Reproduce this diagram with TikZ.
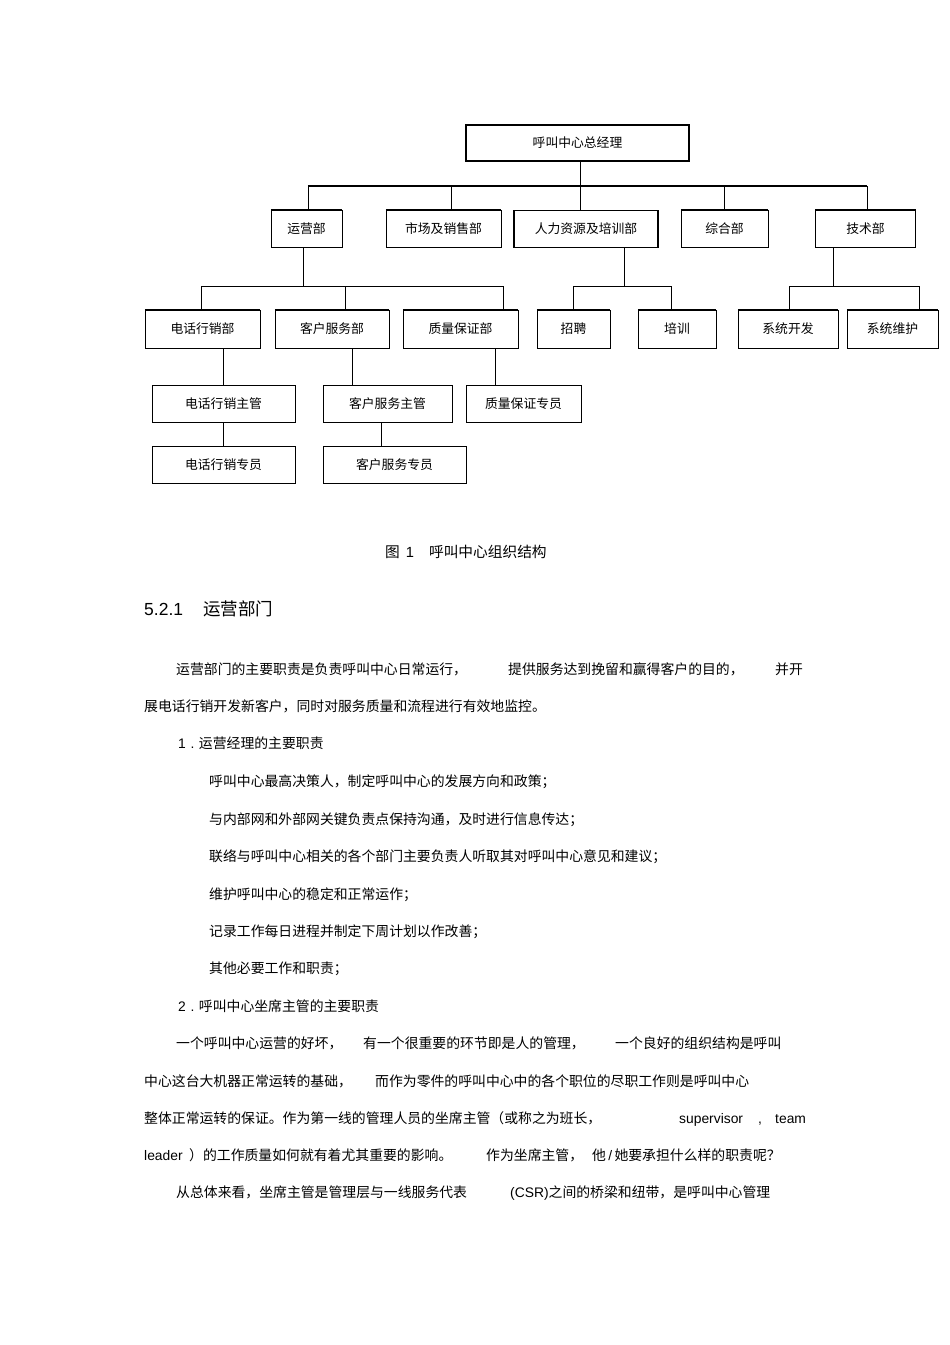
\documentclass[tikz,border=0pt]{standalone}
\usepackage{fontspec}
\setmainfont{Liberation Sans}
\newfontfamily\cjk{Noto Sans CJK SC}
\newfontfamily\lat{Liberation Sans}
\usetikzlibrary{calc}

\begin{document}
\begin{tikzpicture}[x=1pt,y=-1pt,
	box/.style={draw,rectangle,inner sep=0pt,minimum height=37,font=\cjk\fontsize{12.8}{14}\selectfont},
	txt/.style={anchor=base west,inner sep=0pt,font=\cjk\fontsize{13.85}{16}\selectfont},
	ltxt/.style={txt,font=\lat\fontsize{13.85}{16}\selectfont}]
			\path[use as bounding box,fill=white](0,0)rectangle(950,1345);
			\node[box,line width=1.8pt,minimum width=223,minimum height=36](zjl)at(577.5,143){呼叫中心总经理};
			\node[box,minimum width=71](yyb)at(306.5,229){运营部};
			\node[box,minimum width=115](scb)at(443.5,229){市场及销售部};
			\node[box,line width=1.4pt,minimum width=144](rlb)at(586,229){人力资源及培训部};
			\node[box,minimum width=87](zhb)at(724.5,229){综合部};
			\node[box,minimum width=100](jsb)at(865.5,229){技术部};
			\node[box,minimum width=115,minimum height=38](dhb)at(202.5,329){电话行销部};
			\node[box,minimum width=114,minimum height=38](khb)at(332,329){客户服务部};
			\node[box,minimum width=115,minimum height=38](zlb)at(460.5,329){质量保证部};
			\node[box,minimum width=73,minimum height=38](zp)at(573.5,329){招聘};
			\node[box,minimum width=78,minimum height=38](px)at(677,329){培训};
			\node[box,minimum width=100,minimum height=38](xtkf)at(788,329){系统开发};
			\node[box,minimum width=91,minimum height=38](xtwh)at(892.5,329){系统维护};
			\node[box,minimum width=143](dhzg)at(223.5,403.5){电话行销主管};
			\node[box,minimum width=129](khzg)at(387.5,403.5){客户服务主管};
			\node[box,minimum width=115](zlzy)at(523.5,403.5){质量保证专员};
			\node[box,minimum width=143](dhzy)at(223.5,464.5){电话行销专员};
			\node[box,minimum width=143](khzy)at(394.5,464.5){客户服务专员};
			\foreach\n in{yyb,scb,zhb,jsb,dhb,khb,zlb,zp,px,xtkf,xtwh}\draw[line width=1.8pt](\n.north west)--(\n.north east);
			\coordinate(bus)at(580.5,186);
			\draw(zjl.south-|bus)--(bus);
			\draw[line width=2.5pt](307.8,186)--(867,186);
			\foreach\x/\n in{308/yyb,451/scb,580.5/rlb,724/zhb,867/jsb}\draw(\x,186)--(\x,186|-\n.north);
			\draw(yyb.south-|303,0)--(303,286);
			\draw(201,286|-dhb.north)--(201,286)--(503.5,286)--(503.5,286|-zlb.north);
			\draw(345,286)--(345,286|-khb.north);
			\draw(rlb.south-|624,0)--(624,286);
			\draw(573,286|-zp.north)--(573,286)--(671,286)--(671,286|-px.north);
			\draw(jsb.south-|833,0)--(833,286);
			\draw(789.5,286|-xtkf.north)--(789.5,286)--(919,286)--(919,286|-xtwh.north);
			\draw(dhb.south-|dhzg)--(dhzg.north);
			\draw(khb.south-|352,0)--(khzg.north-|352,0);
			\draw(zlb.south-|495,0)--(zlzy.north-|495,0);
			\draw(dhzg)--(dhzy);
			\draw(khzg.south-|381,0)--(khzy.north-|381,0);
			\node[txt,font=\cjk\fontsize{14.7}{16}\selectfont](cap)at(385,557.5){图\hspace{6pt}{\lat 1}\hspace{15pt}呼叫中心组织结构};
			\node[txt,font=\cjk\fontsize{17.5}{20}\selectfont](sec)at(144,615.5){{\lat 5.2.1}\hspace{20pt}运营部门};
			\node[txt](p1a)at(176,674){运营部门的主要职责是负责呼叫中心日常运行，};
			\node[txt](p1b)at(508,674){提供服务达到挽留和赢得客户的目的，};
			\node[txt](p1c)at(775,674){并开};
			\node[txt](p2)at(144,711){展电话行销开发新客户，同时对服务质量和流程进行有效地监控。};
			\node[txt](h1)at(178,748){{\lat 1\,\,.\,\,}运营经理的主要职责};
			\node[txt](l1)at(209,786){呼叫中心最高决策人，制定呼叫中心的发展方向和政策；};
			\node[txt](l2)at(209,824){与内部网和外部网关键负责点保持沟通，及时进行信息传达；};
			\node[txt](l3)at(209,861){联络与呼叫中心相关的各个部门主要负责人听取其对呼叫中心意见和建议；};
			\node[txt](l4)at(209,899){维护呼叫中心的稳定和正常运作；};
			\node[txt](l5)at(209,936){记录工作每日进程并制定下周计划以作改善；};
			\node[txt](l6)at(209,973){其他必要工作和职责；};
			\node[txt](h2)at(178,1011){{\lat 2\,\,.\,\,}呼叫中心坐席主管的主要职责};
			\node[txt](q1a)at(176,1048){一个呼叫中心运营的好坏，};
			\node[txt](q1b)at(363,1048){有一个很重要的环节即是人的管理，};
			\node[txt](q1c)at(615,1048){一个良好的组织结构是呼叫};
			\node[txt](q2a)at(144,1086){中心这台大机器正常运转的基础，};
			\node[txt](q2b)at(375,1086){而作为零件的呼叫中心中的各个职位的尽职工作则是呼叫中心};
			\node[txt](q3a)at(144,1123){整体正常运转的保证。作为第一线的管理人员的坐席主管（或称之为班长，};
			\node[ltxt](q3b)at(679,1123){supervisor};
			\node[ltxt](q3c)at(758,1123){,};
			\node[ltxt](q3d)at(775,1123){team};
			\node[ltxt](q4a)at(144,1160){leader};
			\node[txt](q4b)at(189,1160){）的工作质量如何就有着尤其重要的影响。};
			\node[txt](q4c)at(486,1160){作为坐席主管，};
			\node[txt](q4d)at(592,1160){他{\lat\,/\,}她要承担什么样的职责呢？};
			\node[txt](q5a)at(176,1197){从总体来看，坐席主管是管理层与一线服务代表};
			\node[txt](q5b)at(510,1197){{\lat (CSR)}之间的桥梁和纽带，是呼叫中心管理};
		\end{tikzpicture}
\end{document}
